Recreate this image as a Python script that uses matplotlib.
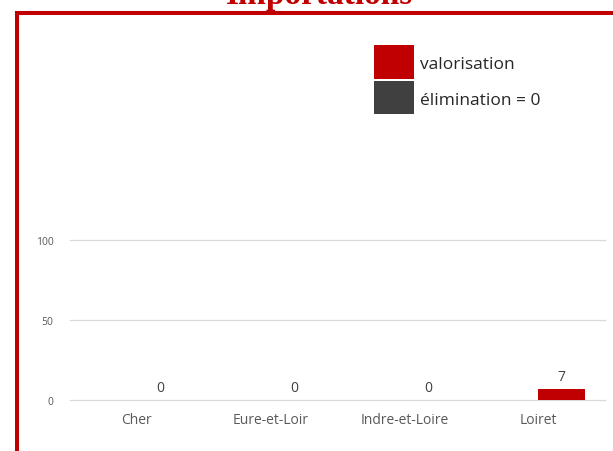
from matplotlib import pyplot as plt
from matplotlib.lines import Line2D
from matplotlib.patches import Rectangle
import numpy as np

# data
departements = ["Cher", "Eure-et-Loir", "Indre-et-Loire", "Loiret"]
valorisation = [0, 0, 0, 7]
elimination = [0, 0, 0, 0]
yticks = [0, 50, 100]

RED = "#c00000"
GRAY = "#404040"
TXT = "#595959"
W, H = 613, 452

fig = plt.figure(figsize=(W / 100, H / 100), dpi=100)
fig.patch.set_facecolor("white")

ax = fig.add_axes([70 / W, 51 / H, 535 / W, 381 / H])
x = np.arange(len(departements))
bw = 0.35
ax.bar(x - bw / 2, elimination, bw, color=GRAY, zorder=3)
bars = ax.bar(x + bw / 2, valorisation, bw, color=RED, zorder=3)
for b, v in zip(bars, valorisation):
    ax.text(b.get_x() + b.get_width() / 2, v + 3, str(v), ha="center", va="bottom",
            fontsize=10, color="#404040", family="Open Sans")

ax.set_xlim(-0.5, len(departements) - 0.5)
ax.set_ylim(0, 238)
ax.set_yticks(yticks)
ax.set_xticks(x)
ax.set_xticklabels(departements, fontsize=10, color=TXT, family="Open Sans")
for lab in ax.get_yticklabels():
    lab.set_fontsize(7.5)
    lab.set_color(TXT)
    lab.set_family("Open Sans")
ax.tick_params(axis="both", length=0)
ax.tick_params(axis="x", pad=9)
ax.tick_params(axis="y", pad=12)
for y in yticks:
    ax.axhline(y, color="#d9d9d9", linewidth=0.9, zorder=1, clip_on=False)
for s in ax.spines.values():
    s.set_visible(False)

# legend drawn as figure patches
fig.patches.append(Rectangle((374 / W, 1 - 80 / H), 40 / W, 34 / H, transform=fig.transFigure,
                             facecolor=RED, edgecolor="none"))
fig.patches.append(Rectangle((374 / W, 1 - 115 / H), 40 / W, 33 / H, transform=fig.transFigure,
                             facecolor=GRAY, edgecolor="none"))
fig.text(420 / W, 1 - 65 / H, "valorisation", fontsize=12.5, color="#262626",
         family="Open Sans", va="center")
fig.text(420 / W, 1 - 101 / H, "élimination = 0", fontsize=12.5, color="#262626",
         family="Open Sans", va="center")

# red frame
fig.lines.append(Line2D([17 / W, 17 / W], [0, 1 - 14 / H], transform=fig.transFigure,
                        color=RED, linewidth=2.9, solid_capstyle="projecting"))
fig.lines.append(Line2D([17 / W, 1], [1 - 14 / H, 1 - 14 / H], transform=fig.transFigure,
                        color=RED, linewidth=2.9, solid_capstyle="projecting"))

# title, cut by top edge
fig.text(319 / W, 1 - 4 / H, "Importations", ha="center", va="baseline", fontsize=24,
         fontweight="bold", color=RED, family="Liberation Serif")

fig.savefig("out.png", dpi=100)
